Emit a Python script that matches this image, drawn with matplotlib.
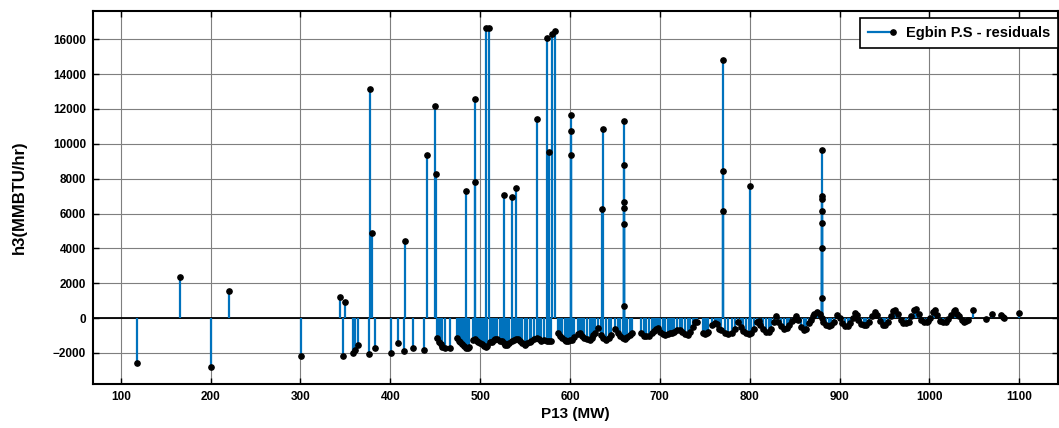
import numpy as np
import matplotlib
matplotlib.use('Agg')
import matplotlib.pyplot as plt
from matplotlib.lines import Line2D
from matplotlib.legend_handler import HandlerBase

# tall residual spikes (P13 MW, h3 MMBTU/hr)
spikes = [(377.3, 13120), (379.2, 4910), (416.3, 4410), (440.4, 9340), (449.7, 12150),
          (450.8, 8250), (484.2, 7300), (494.2, 12550), (494.4, 7810), (506.5, 16650),
          (510.2, 16650), (526.9, 7050), (535.0, 6920), (539.5, 7490), (562.9, 11400),
          (574.0, 16080), (576.9, 9530), (580.3, 16310), (583.3, 16500), (600.8, 11650),
          (600.8, 10720), (600.8, 9380), (636.3, 10830), (635.2, 6280), (660.1, 11290),
          (660.1, 8770), (660.1, 6660), (660.1, 6320), (660.1, 5390), (660.1, 690),
          (770.0, 14820), (770.0, 8440), (770.0, 6150), (800.8, 7560), (880.6, 9670),
          (880.6, 6990), (880.6, 6860), (880.6, 6150), (880.6, 5460), (880.6, 4030),
          (880.6, 1160)]

# sparse points below 450 MW
low = [(118.5, -2560), (165.7, 2370), (200.2, -2830), (219.9, 1570), (300.4, -2180),
       (343.5, 1190), (349.8, 940), (347.6, -2180), (358.7, -1990), (360.6, -1830),
       (364.3, -1550), (376.5, -2080), (382.9, -1740), (400.3, -1990), (408.8, -1410),
       (415.1, -1890), (424.8, -1740), (437.4, -1830)]

# 450 - 650 MW
mid = [(452, -1150), (454, -1350), (456, -1500), (458, -1650), (461, -1740), (466, -1700),
       (474, -1160), (476, -1300), (478, -1390), (480, -1500), (482, -1620), (484, -1700),
       (486, -1740), (488, -1680),
       (492, -1250), (494, -1200), (496, -1300), (498, -1390), (500, -1450), (502, -1510),
       (504, -1580), (506, -1640), (508, -1600),
       (511, -1400), (513, -1350), (515, -1250), (517, -1200), (519, -1180),
       (522, -1330), (524, -1300), (526, -1450), (528, -1520), (530, -1550), (532, -1450),
       (535, -1330), (538, -1250), (540, -1200), (542, -1200), (544, -1300), (547, -1450),
       (550, -1520), (552, -1450), (555, -1350), (557, -1330), (560, -1200), (563, -1140),
       (565, -1200), (568, -1290), (571, -1250), (574, -1300), (577, -1330), (579, -1300),
       (587, -860), (589, -1000), (591, -1140), (594, -1250), (596, -1330), (598, -1330),
       (600, -1280), (602, -1240), (605, -1100), (609, -900), (611, -860), (613, -1000),
       (616, -1140), (619, -1200), (622, -1240), (624, -1150), (626, -950), (628, -860),
       (631, -580), (634, -950), (637, -1150), (640, -1240), (643, -1150), (646, -950)]

# 650 - 1100 MW
high = [(650, -630), (653, -850), (656, -1000), (659, -1170), (661, -1190), (664, -1100),
        (667, -950), (669, -860),
        (679, -860), (682, -1000), (685, -1050), (688, -1000), (691, -860), (693, -750),
        (696, -650), (698, -580), (700, -800), (703, -900), (706, -950), (709, -920),
        (711, -880), (713, -860), (716, -780), (719, -670),
        (722, -670), (725, -820), (728, -900), (731, -950), (734, -800), (737, -500),
        (739, -250), (741, -210),
        (748, -850), (750, -920), (752, -880), (754, -800),
        (758, -400), (761, -300), (764, -350),
        (766, -600), (768, -700), (772, -850), (776, -900), (780, -850), (784, -600), (787, -200),
        (790, -500), (793, -750), (796, -870), (799, -920), (802, -850), (805, -600), (808, -250),
        (810, -150), (812, -400), (815, -650), (818, -800), (821, -780), (824, -600),
        (827, -200), (829, 100),
        (832, -200), (835, -450), (838, -600), (841, -580), (844, -400), (847, -150),
        (850, -50), (852, 100),
        (854, -100), (857, -500), (860, -690), (863, -650), (866, -300), (868, -100),
        (870, 100), (872, 250), (875, 330), (878, 250), (880, 0),
        (882, -200), (885, -380), (888, -480), (891, -420), (894, -200), (897, 170),
        (900, 0), (903, -300), (906, -480), (909, -450), (912, -300), (915, 0), (917, 290),
        (919, 200), (921, -100), (924, -350), (927, -420), (930, -380), (933, -200),
        (936, 100), (939, 330), (942, 150), (945, -150), (948, -380), (951, -380),
        (954, -200), (957, 100), (960, 380), (962, 440), (965, 250), (968, -100),
        (971, -280), (974, -300), (977, -200), (980, 100), (983, 450), (985, 500),
        (988, 250), (991, -100), (994, -200), (997, -200), (999, -190), (1001, 0),
        (1004, 350), (1006, 480), (1009, 200), (1012, -150), (1015, -200), (1018, -200),
        (1021, -50), (1024, 200), (1027, 400), (1029, 440), (1031, 250), (1033, 100),
        (1036, -100), (1039, -200), (1041, -180), (1043, -100),
        (1049, 480), (1063, -60), (1070, 240), (1080, 190), (1082, 50), (1083, -20),
        (1100, 290)]

xticks = list(range(100, 1101, 100))
yticks = list(range(-2000, 16001, 2000))

blue = '#0072BD'
plt.rcParams['font.family'] = ['Liberation Sans', 'DejaVu Sans']
plt.rcParams['font.weight'] = 'bold'

data = np.array(low + mid + high + spikes, dtype=float)
order = np.argsort(data[:, 0], kind='stable')
x = data[order, 0]
y = data[order, 1]

fig = plt.figure(figsize=(10.59, 4.28), dpi=100)
ax = fig.add_axes([0.0878, 0.1021, 0.9115, 0.8722])

ax.axhline(0, color='black', lw=1.3, zorder=2)
ax.vlines(x, 0, y, color=blue, lw=1.6, zorder=3)
ax.plot(x, y, 'o', color='black', ms=3.8, zorder=4)

ax.set_xlim(69, 1143.5)
ax.set_ylim(-3800, 17620)
ax.set_xticks(xticks)
ax.set_yticks(yticks)
ax.grid(True, color='#7f7f7f', lw=0.8)
ax.set_axisbelow(True)
ax.tick_params(direction='in', top=True, right=True, length=4, width=1,
               labelsize=8.5, pad=5)
for s in ax.spines.values():
    s.set_linewidth(1.5)

ax.set_xlabel('P13 (MW)', fontsize=11, fontweight='bold', labelpad=3)
ax.set_ylabel('h3(MMBTU/hr)', fontsize=12, fontweight='bold', labelpad=19)


class StemHandler(HandlerBase):
    def create_artists(self, legend, orig_handle, xdescent, ydescent, width, height,
                       fontsize, trans):
        yc = height / 2 - ydescent
        ln = Line2D([-xdescent, width - xdescent], [yc, yc], color=blue, lw=1.6)
        dot = Line2D([width - xdescent], [yc], marker='o', color='black', ms=3.8, ls='')
        ln.set_transform(trans)
        dot.set_transform(trans)
        return [ln, dot]


proxy = Line2D([], [], color=blue)
leg = ax.legend([proxy], ['Egbin P.S - residuals'], handler_map={Line2D: StemHandler()},
                loc='upper right', bbox_to_anchor=(1.0, 0.981), borderaxespad=0,
                fancybox=False, edgecolor='black', framealpha=1, handlelength=1.7,
                handletextpad=0.9, borderpad=0.55, prop={'size': 10.5, 'weight': 'bold'})
leg.get_frame().set_linewidth(1.2)

fig.savefig('out.png', dpi=100)
